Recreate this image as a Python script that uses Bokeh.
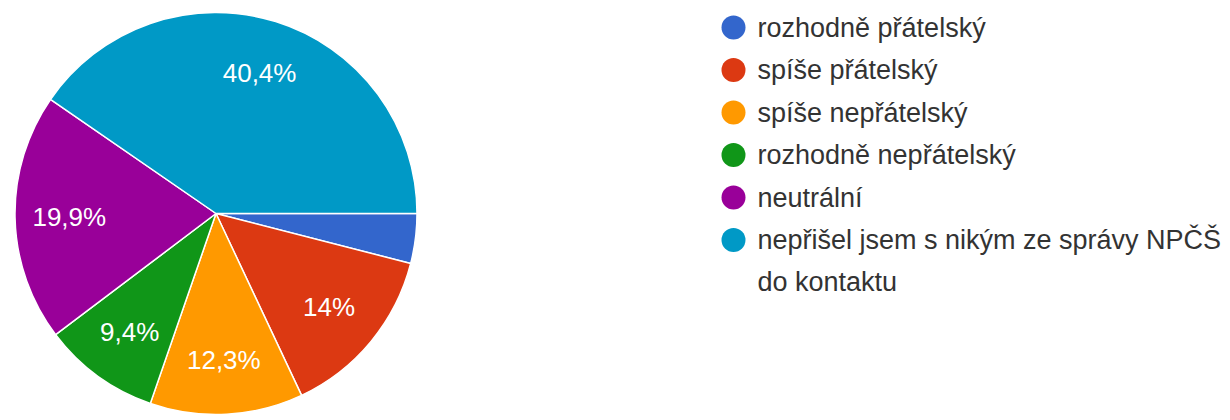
import math
import textwrap
from bokeh.plotting import figure
from bokeh.models import Range1d, ColumnDataSource
from bokeh.core.properties import value
from bokeh.embed import file_html
from bokeh.resources import INLINE

# ---- data ----
categories = [
    "rozhodně přátelský",
    "spíše přátelský",
    "spíše nepřátelský",
    "rozhodně nepřátelský",
    "neutrální",
    "nepřišel jsem s nikým ze správy NPČŠ do kontaktu",
]
percent = [4.0, 14.0, 12.3, 9.4, 19.9, 40.4]
pct_labels = ["", "14%", "12,3%", "9,4%", "19,9%", "40,4%"]
colors = ["#3366cc", "#dc3912", "#ff9900", "#109618", "#990099", "#0099c6"]

# ---- layout (px of the 1230x420 picture, y measured from top) ----
W, H = 1230, 420
cx, cy_top, R = 215.5, 213.0, 201.0
label_frac = 0.73
leg_circle_x, leg_text_x = 733, 757
leg_y0, leg_step, wrap_step = 27.0, 42.5, 42.0
FONT = "Liberation Sans"

def Y(y_top):
    return 420 - y_top

p = figure(width=W, height=H, output_backend="svg", toolbar_location=None,
           x_range=Range1d(0, W), y_range=Range1d(Y(H), Y(0)),
           min_border=0, outline_line_color=None, background_fill_color="white",
           border_fill_color="white")
p.axis.visible = False
p.grid.visible = False

total = sum(percent)
starts, ends, mids = [], [], []
acc = 0.0
for v in percent:
    s = acc / total
    acc += v
    e = acc / total
    # clockwise from 3 o'clock
    starts.append(-2 * math.pi * e)
    ends.append(-2 * math.pi * s)
    mids.append(-2 * math.pi * (s + e) / 2)

src = ColumnDataSource(dict(start=starts, end=ends, color=colors, cat=categories))
p.wedge(x=cx, y=Y(cy_top), radius=R, start_angle="start", end_angle="end",
        fill_color="color", line_color="white", line_width=1.5, source=src)

lx = [cx + label_frac * R * math.cos(a) for a in mids]
ly = [Y(cy_top) + label_frac * R * math.sin(a) for a in mids]
p.text(x=lx, y=ly, text=pct_labels, text_color="white", text_font=value(FONT),
       text_font_size="26px", text_align="center", text_baseline="middle")

# legend
cxs, cys, tx, ty, tt = [], [], [], [], []
row_y = leg_y0
for name in categories:
    cxs.append(leg_circle_x)
    cys.append(Y(row_y))
    lines = textwrap.wrap(name, 36)
    for i, ln in enumerate(lines):
        tx.append(leg_text_x)
        ty.append(Y(row_y + i * wrap_step))
        tt.append(ln)
    row_y += leg_step
p.scatter(x=cxs, y=cys, size=24, marker="circle", fill_color=colors, line_color=None)
p.text(x=tx, y=ty, text=tt, text_color="#333333", text_font=value(FONT),
       text_font_size="27px", text_align="left", text_baseline="middle")

open("out.html", "w").write(file_html(p, INLINE))
